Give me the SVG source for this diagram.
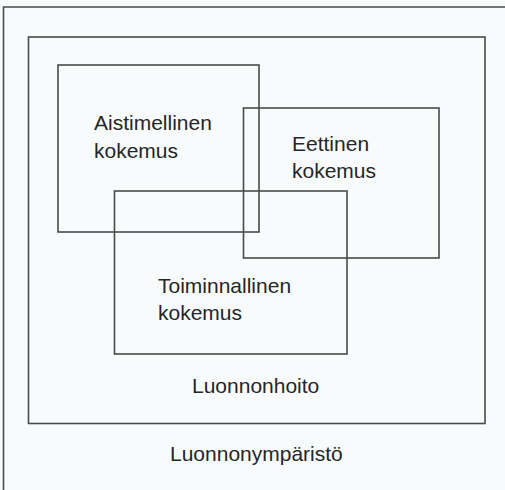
<svg xmlns="http://www.w3.org/2000/svg" width="505" height="490" viewBox="0 0 505 490">
<style>
.box{fill:none;stroke:#4a4a4a;stroke-width:1.6}
.lbl{font-family:"Liberation Sans",Arial,sans-serif;font-size:21px;fill:#262626}
</style>
<rect x="0" y="0" width="505" height="490" fill="#f8fbfc"/>
<g id="luonnonymparisto">
<path class="box" d="M3.5,510 V7 H520"/>
<text class="lbl" x="170" y="461">Luonnonympäristö</text>
</g>
<g id="luonnonhoito">
<rect class="box" x="28.5" y="37" width="456.5" height="386.5"/>
<text class="lbl" x="192" y="393">Luonnonhoito</text>
</g>
<g id="aistimellinen">
<rect class="box" x="58" y="65" width="201" height="167"/>
<text class="lbl" x="94" y="130">Aistimellinen</text>
<text class="lbl" x="94" y="158">kokemus</text>
</g>
<g id="eettinen">
<rect class="box" x="243.5" y="108" width="195.5" height="150"/>
<text class="lbl" x="292" y="151">Eettinen</text>
<text class="lbl" x="292" y="178">kokemus</text>
</g>
<g id="toiminnallinen">
<rect class="box" x="114.5" y="191" width="232.5" height="163"/>
<text class="lbl" x="158" y="293">Toiminnallinen</text>
<text class="lbl" x="158" y="320">kokemus</text>
</g>
<g id="connectors"></g>
</svg>
